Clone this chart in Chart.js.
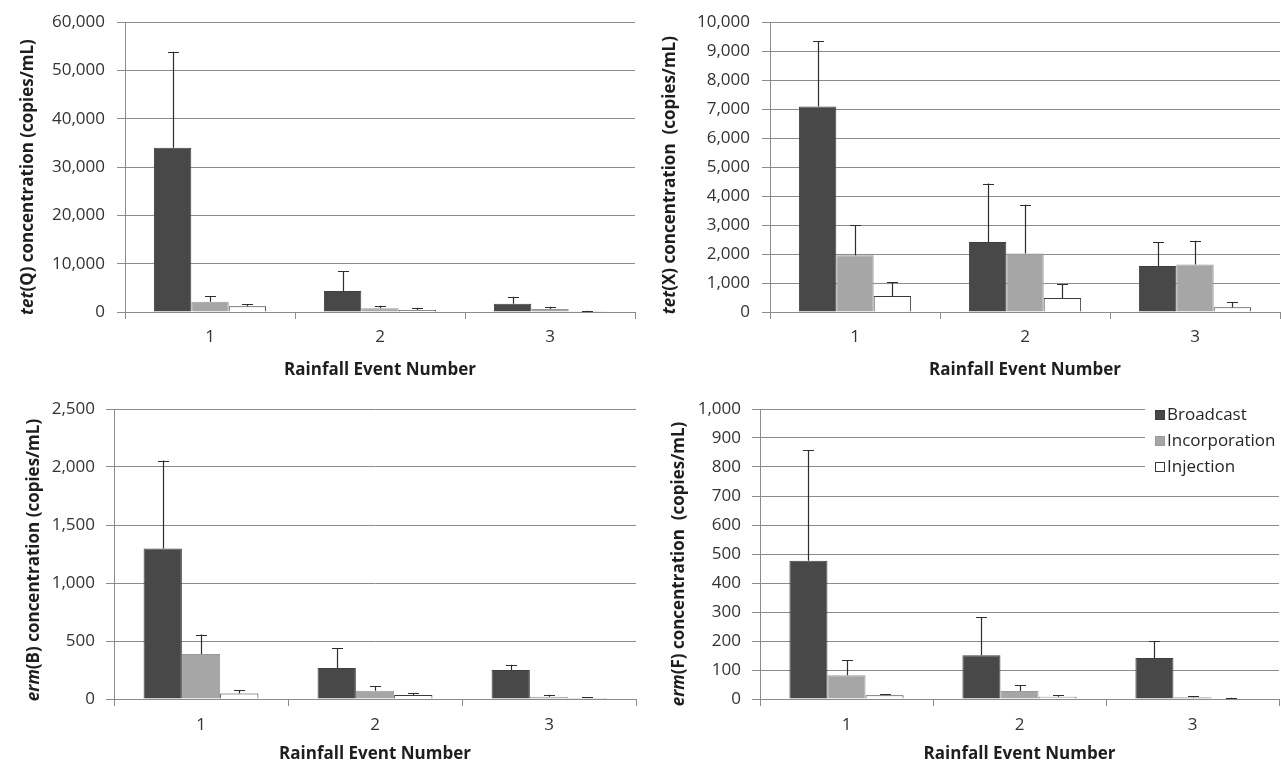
<!DOCTYPE html>
<html><head><meta charset="utf-8">
<script src="https://cdn.jsdelivr.net/npm/chart.js@4.4.0/dist/chart.umd.min.js"></script>
<style>
html,body{margin:0;padding:0;background:#fff;width:1281px;height:764px;overflow:hidden}
.p{position:absolute}
</style></head><body>
<div class="p" style="left:0;top:0"><canvas id="c1" width="640" height="385"></canvas></div>
<div class="p" style="left:640px;top:0"><canvas id="c2" width="641" height="385"></canvas></div>
<div class="p" style="left:0;top:385px"><canvas id="c3" width="640" height="379"></canvas></div>
<div class="p" style="left:640px;top:385px"><canvas id="c4" width="641" height="379"></canvas></div>
<script>
// ---------- data ----------
const categories = ['1', '2', '3'];
const seriesNames = ['Broadcast', 'Incorporation', 'Injection'];
const xAxisTitle = 'Rainfall Event Number';

// tet(Q)
const tetQ_broadcast = [34000, 4350, 1720];
const tetQ_broadcast_err = [19900, 4070, 1450];
const tetQ_incorporation = [2130, 760, 620];
const tetQ_incorporation_err = [1180, 540, 480];
const tetQ_injection = [1170, 410, 150];
const tetQ_injection_err = [480, 480, 120];
const tetQ_axis = [0, 60000, 10000];

// tet(X)
const tetX_broadcast = [7090, 2415, 1590];
const tetX_broadcast_err = [2250, 2015, 825];
const tetX_incorporation = [1955, 2015, 1635];
const tetX_incorporation_err = [1035, 1690, 825];
const tetX_injection = [552, 483, 162];
const tetX_injection_err = [483, 472, 173];
const tetX_axis = [0, 10000, 1000];

// erm(B)
const ermB_broadcast = [1297, 267, 250];
const ermB_broadcast_err = [758, 172, 45];
const ermB_incorporation = [387, 71, 20];
const ermB_incorporation_err = [169, 37, 17];
const ermB_injection = [48, 34, 9];
const ermB_injection_err = [26, 18, 8];
const ermB_axis = [0, 2500, 500];

// erm(F)
const ermF_broadcast = [477, 151, 141];
const ermF_broadcast_err = [382, 132, 58];
const ermF_incorporation = [82, 28, 6];
const ermF_incorporation_err = [51, 19, 4];
const ermF_injection = [13, 8, 3];
const ermF_injection_err = [4, 6, 1];
const ermF_axis = [0, 1000, 100];

// ---------- styling ----------
const FONT = '"Open Sans", "DejaVu Sans", sans-serif';
const seriesFill = ['#484848', '#a6a6a6', '#ffffff'];
const seriesBorder = ['#404040', '#9a9a9a', '#3a3a3a'];
const gridColor = '#8c8c8c';

// error bars plugin (upper only, with cap)
const errorBars = {
  id: 'errorBars',
  afterDatasetsDraw(chart) {
    const ctx = chart.ctx;
    const ys = chart.scales.y;
    ctx.save();
    ctx.strokeStyle = '#2e2e2e';
    ctx.lineWidth = 1.2;
    chart.data.datasets.forEach((ds, i) => {
      const meta = chart.getDatasetMeta(i);
      meta.data.forEach((el, j) => {
        const v = ds.data[j], e = ds.errors[j];
        const yTop = ys.getPixelForValue(v + e);
        const x = Math.round(el.x) + 0.5;
        ctx.beginPath();
        ctx.moveTo(x, el.y);
        ctx.lineTo(x, yTop);
        ctx.moveTo(x - 5.5, Math.round(yTop) + 0.5);
        ctx.lineTo(x + 5.5, Math.round(yTop) + 0.5);
        ctx.stroke();
      });
    });
    ctx.restore();
  }
};

// rich (partly italic) rotated y-axis title
const richTitle = {
  id: 'richTitle',
  afterDraw(chart, args, opts) {
    if (!opts || !opts.parts) return;
    const ctx = chart.ctx;
    const ca = chart.chartArea;
    const cy = (ca.top + ca.bottom) / 2 + (opts.dy || 0);
    const size = opts.size || 17;
    ctx.save();
    ctx.fillStyle = '#1e1e1e';
    ctx.textBaseline = 'middle';
    ctx.textAlign = 'left';
    const fonts = opts.parts.map(p => (p[1] ? 'italic ' : '') + 'bold ' + size + 'px ' + FONT);
    let total = 0;
    const widths = opts.parts.map((p, k) => { ctx.font = fonts[k]; const w = ctx.measureText(p[0]).width; total += w; return w; });
    ctx.translate(opts.x, cy);
    ctx.rotate(-Math.PI / 2);
    let pos = -total / 2;
    opts.parts.forEach((p, k) => { ctx.font = fonts[k]; ctx.fillText(p[0], pos, 0); pos += widths[k]; });
    ctx.restore();
  }
};

// legend drawn over the grid (as in the reference)
const overlayLegend = {
  id: 'overlayLegend',
  afterDraw(chart, args, opts) {
    if (!opts || !opts.show) return;
    const ctx = chart.ctx;
    ctx.save();
    ctx.fillStyle = '#ffffff';
    ctx.fillRect(opts.x - 10, opts.y - 14, chart.width - opts.x + 10, opts.gap * 3 + 2);
    ctx.font = '17px ' + FONT;
    ctx.textBaseline = 'middle';
    chart.data.datasets.forEach((ds, i) => {
      const y = opts.y + i * opts.gap;
      ctx.fillStyle = ds.backgroundColor;
      ctx.fillRect(opts.x, y - 5, 10, 10);
      ctx.strokeStyle = ds.borderColor;
      ctx.lineWidth = 1;
      ctx.strokeRect(opts.x + 0.5, y - 4.5, 9, 9);
      ctx.fillStyle = '#262626';
      ctx.fillText(ds.label, opts.x + 12, y);
    });
    ctx.restore();
  }
};

function makeChart(id, series, errs, axis, geo, titleParts, legend) {
  const datasets = series.map((d, i) => ({
    label: seriesNames[i],
    data: d,
    errors: errs[i],
    backgroundColor: seriesFill[i],
    borderColor: seriesBorder[i],
    borderWidth: 1,
    categoryPercentage: 0.66,
    barPercentage: 1.0
  }));
  return new Chart(document.getElementById(id), {
    type: 'bar',
    data: { labels: categories, datasets },
    plugins: [errorBars, richTitle, overlayLegend],
    options: {
      responsive: false,
      animation: false,
      devicePixelRatio: 1,
      layout: { padding: { left: 0, right: geo.right, top: geo.top, bottom: 0 } },
      plugins: {
        legend: { display: false },
        tooltip: { enabled: false },
        richTitle: { parts: titleParts, x: geo.titleX, dy: geo.titleDy, size: 17 },
        overlayLegend: legend || { show: false }
      },
      scales: {
        x: {
          grid: { display: true, drawOnChartArea: false, drawTicks: true, tickLength: 7, color: gridColor, offset: true },
          border: { display: true, color: gridColor, width: 1 },
          ticks: { color: '#333333', font: { family: FONT, size: 17 }, padding: geo.xPad },
          title: { display: true, text: xAxisTitle, color: '#1e1e1e', font: { family: FONT, size: 17, weight: 'bold' }, padding: { top: 0, bottom: geo.titlePadB } },
          afterFit(s) { s.height = geo.xHeight; }
        },
        y: {
          min: axis[0], max: axis[1],
          grid: { color: gridColor, lineWidth: 1, tickLength: 8, drawTicks: true },
          border: { display: true, color: gridColor, width: 1 },
          ticks: {
            stepSize: axis[2], color: '#333333', font: { family: FONT, size: 17 }, padding: geo.yPad,
            callback: v => Number(v).toLocaleString('en-US')
          },
          afterFit(s) { s.width = geo.left; }
        }
      }
    }
  });
}

makeChart('c1',
  [tetQ_broadcast, tetQ_incorporation, tetQ_injection],
  [tetQ_broadcast_err, tetQ_incorporation_err, tetQ_injection_err],
  tetQ_axis,
  { left: 125, right: 5, top: 22, xHeight: 73, xPad: 8, titlePadB: 5, yPad: 12, titleX: 28, titleDy: 10 },
  [['tet', true], ['(Q) concentration (copies/mL)', false]]);

makeChart('c2',
  [tetX_broadcast, tetX_incorporation, tetX_injection],
  [tetX_broadcast_err, tetX_incorporation_err, tetX_injection_err],
  tetX_axis,
  { left: 130, right: 1, top: 22, xHeight: 73, xPad: 8, titlePadB: 5, yPad: 12, titleX: 30, titleDy: 8 },
  [['tet', true], ['(X) concentration  (copies/mL)', false]]);

makeChart('c3',
  [ermB_broadcast, ermB_incorporation, ermB_injection],
  [ermB_broadcast_err, ermB_incorporation_err, ermB_injection_err],
  ermB_axis,
  { left: 114, right: 4, top: 24, xHeight: 65, xPad: 9, titlePadB: 0, yPad: 11, titleX: 34, titleDy: 6 },
  [['erm', true], ['(B) concentration (copies/mL)', false]]);

makeChart('c4',
  [ermF_broadcast, ermF_incorporation, ermF_injection],
  [ermF_broadcast_err, ermF_incorporation_err, ermF_injection_err],
  ermF_axis,
  { left: 120, right: 2, top: 24, xHeight: 65, xPad: 9, titlePadB: 0, yPad: 11, titleX: 39, titleDy: 10 },
  [['erm', true], ['(F) concentration  (copies/mL)', false]],
  { show: true, x: 515, y: 30, gap: 26 });
</script>
</body></html>
